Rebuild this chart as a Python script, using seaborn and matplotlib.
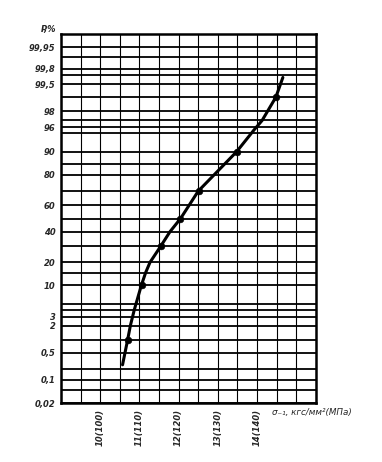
import numpy as np
import matplotlib
matplotlib.use("Agg")
import matplotlib.pyplot as plt
from matplotlib.ticker import FixedLocator, NullFormatter
import seaborn as sns
from statistics import NormalDist

# точки кривой (сигма, кгс/мм2) и вероятность P, %
curve_x = [10.57, 10.70, 10.77, 10.87, 11.05, 11.16, 11.27, 11.55, 11.78, 12.05, 12.50, 13.48, 13.92, 14.13, 14.48, 14.66]
curve_p = [0.25, 1.0, 2.0, 4.0, 10.0, 15.0, 20.0, 30.0, 40.0, 50.0, 70.0, 90.0, 95.5, 97.0, 99.0, 99.66]

# опытные точки
point_x = [10.72, 11.06, 11.55, 12.04, 12.51, 13.48, 14.48]
point_p = [1.0, 10.0, 30.0, 50.0, 70.0, 90.0, 99.0]

# шкала вероятностей
p_labels = [99.95, 99.8, 99.5, 98, 96, 90, 80, 60, 40, 20, 10, 3, 2, 0.5, 0.1, 0.02]
p_text = ["99,95", "99,8", "99,5", "98", "96", "90", "80", "60", "40", "20", "10", "3", "2", "0,5", "0,1", "0,02"]
p_grid = [99.98, 99.9, 99.7, 99, 97, 95, 85, 70, 50, 30, 15, 5, 4, 1, 0.2, 0.05]

x_ticks = [10, 11, 12, 13, 14]
x_text = ["10(100)", "11(110)", "12(120)", "13(130)", "14(140)"]
x_grid = [9.0, 9.5, 10.5, 11.5, 12.5, 13.5, 14.5, 15.0, 15.5]

nd = NormalDist()
_ppf = np.vectorize(nd.inv_cdf, otypes=[float])
_cdf = np.vectorize(nd.cdf, otypes=[float])


def probit(p):
    p = np.clip(np.asarray(p, dtype=float) / 100.0, 1e-9, 1 - 1e-9)
    return _ppf(p)


def inv_probit(z):
    return _cdf(np.asarray(z, dtype=float)) * 100.0


sns.set_style("white")
plt.rcParams["font.family"] = ["DejaVu Sans"]

fig = plt.figure(figsize=(3.82, 4.62), dpi=100)
ax = fig.add_axes([0.1597, 0.1277, 0.6670, 0.7987])
ax.set_yscale("function", functions=(probit, inv_probit))

sns.lineplot(x=curve_x, y=curve_p, ax=ax, color="black", lw=2.2,
             sort=False, estimator=None)
ax.lines[-1].set_solid_joinstyle("round")
ax.lines[-1].set_solid_capstyle("round")
sns.scatterplot(x=point_x, y=point_p, ax=ax, color="black", s=24,
                edgecolor="black", zorder=5)

ax.set_xlim(9, 15.5)
ax.set_ylim(0.02, 99.98)

ax.yaxis.set_major_locator(FixedLocator(p_labels))
ax.yaxis.set_minor_locator(FixedLocator(p_grid))
ax.yaxis.set_minor_formatter(NullFormatter())
ax.set_yticklabels(p_text, fontsize=6, fontweight="bold", style="italic")

ax.xaxis.set_major_locator(FixedLocator(x_ticks))
ax.xaxis.set_minor_locator(FixedLocator(x_grid))
ax.set_xticklabels(x_text, fontsize=6, fontweight="bold", style="italic",
                   rotation=90, va="top")

ax.tick_params(which="both", length=0, pad=4)
ax.yaxis.grid(True, which="both", color="black", lw=1.3)
ax.xaxis.grid(True, which="both", color="black", lw=0.8)
ax.set_axisbelow(True)
for s in ax.spines.values():
    s.set_color("black")
    s.set_linewidth(1.8)

ax.set_xlabel("")
ax.set_ylabel("")
ax.text(-0.02, 1.0, "P,%", transform=ax.transAxes, ha="right", va="bottom",
        fontsize=6, fontweight="bold", style="italic")
ax.text(0.83, -0.027, "σ₋₁, кгс/мм²(МПа)", transform=ax.transAxes,
        ha="left", va="center", fontsize=6.3, style="italic", clip_on=False)

fig.savefig("out.png", dpi=100)
